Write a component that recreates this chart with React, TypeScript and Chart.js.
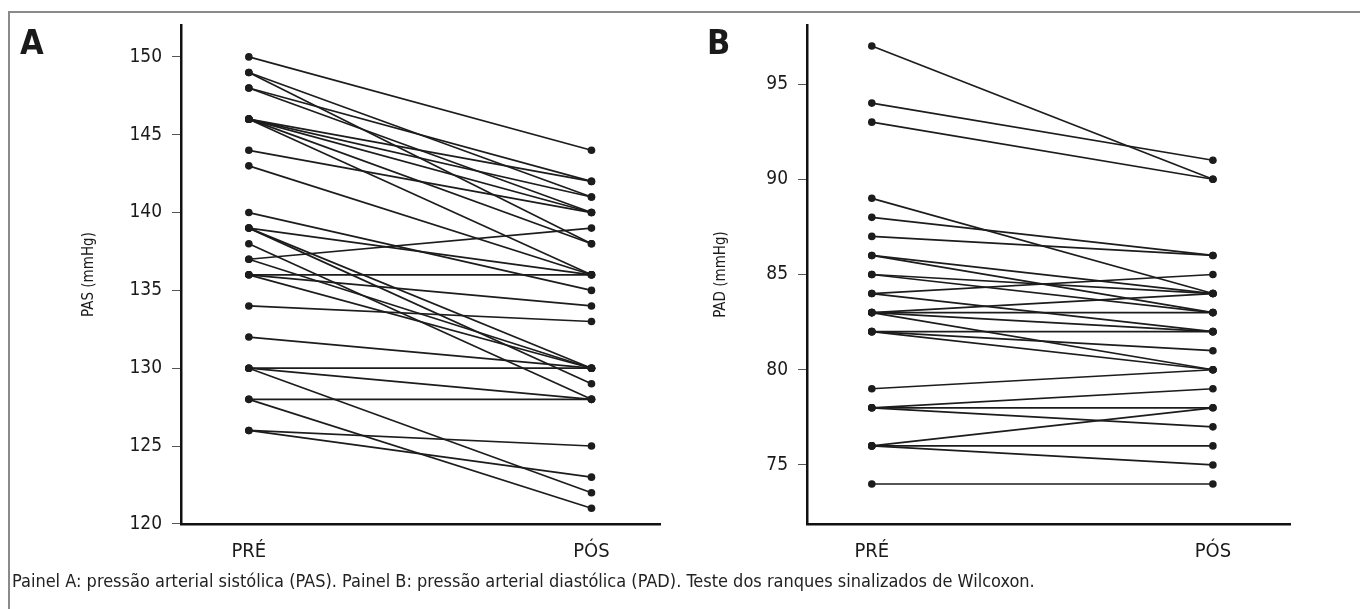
import React, { useEffect, useRef } from "react";
import { Chart, registerables } from "chart.js";

Chart.register(...registerables);

// Panel A: PAS (mmHg), each index is one subject (pre -> post)
const pasPre = [150, 149, 149, 148, 148, 146, 146, 146, 146, 146, 144, 143, 140, 139, 139, 139, 138, 137, 137, 136, 136, 136, 134, 132, 130, 130, 130, 128, 128, 126, 126];
const pasPost = [144, 141, 138, 142, 140, 142, 141, 140, 136, 138, 140, 136, 135, 136, 130, 129, 128, 139, 130, 136, 134, 130, 133, 130, 130, 128, 122, 128, 121, 125, 123];

// Panel B: PAD (mmHg)
const padPre = [97, 94, 93, 89, 88, 87, 86, 86, 85, 85, 84, 84, 83, 83, 83, 83, 82, 82, 82, 79, 78, 78, 78, 76, 76, 76, 74];
const padPost = [90, 91, 90, 84, 86, 86, 84, 83, 83, 84, 85, 82, 84, 83, 82, 80, 82, 81, 80, 80, 79, 78, 77, 78, 76, 75, 74];

const xLabels = ["PRÉ", "PÓS"];
const pasTicks = [120, 125, 130, 135, 140, 145, 150];
const padTicks = [75, 80, 85, 90, 95];

const FONT = "'DejaVu Sans Condensed', 'Liberation Sans Narrow', 'Liberation Sans', sans-serif";

type PanelProps = {
  pre: number[];
  post: number[];
  ticks: number[];
  yMin: number;
  yMax: number;
  xMin: number;
  xMax: number;
  yTitle: string;
  yAxisWidth: number;
  titlePad: number;
  width: number;
  height: number;
  padTop: number;
  padRight: number;
};

function Panel(p: PanelProps) {
  const ref = useRef<HTMLCanvasElement | null>(null);
  useEffect(() => {
    if (!ref.current) return;
    const datasets = p.pre.map((v, i) => ({
      data: [
        { x: 0, y: v },
        { x: 1, y: p.post[i] },
      ],
      borderColor: "#1c1c1c",
      backgroundColor: "#1c1c1c",
      borderWidth: 1.7,
      pointRadius: 3.8,
      pointBorderWidth: 0,
      pointBackgroundColor: "#1c1c1c",
      showLine: true,
      fill: false,
    }));
    const chart = new Chart(ref.current, {
      type: "scatter",
      data: { datasets },
      options: {
        animation: false,
        responsive: false,
        maintainAspectRatio: false,
        layout: { padding: { left: 0, top: p.padTop, right: p.padRight, bottom: 0 } },
        plugins: { legend: { display: false }, tooltip: { enabled: false } },
        scales: {
          x: {
            type: "linear",
            min: p.xMin,
            max: p.xMax,
            afterBuildTicks: (s: any) => {
              s.ticks = [{ value: 0 }, { value: 1 }];
            },
            afterFit: (s: any) => {
              s.height = 50;
              s.paddingLeft = 0;
              s.paddingRight = 0;
            },
            ticks: {
              autoSkip: false,
              maxRotation: 0,
              padding: 16,
              color: "#1a1a1a",
              font: { family: FONT, size: 20 },
              callback: (v: any) => xLabels[Number(v)] ?? "",
            },
            grid: { display: false, drawTicks: false },
            border: { display: true, color: "#111", width: 2.5 },
          },
          y: {
            type: "linear",
            min: p.yMin,
            max: p.yMax,
            afterBuildTicks: (s: any) => {
              s.ticks = p.ticks.map((v) => ({ value: v }));
            },
            afterFit: (s: any) => {
              s.width = p.yAxisWidth;
              s.paddingTop = 0;
              s.paddingBottom = 0;
            },
            ticks: {
              padding: 10,
              color: "#1a1a1a",
              font: { family: FONT, size: 19 },
            },
            grid: {
              display: true,
              drawOnChartArea: false,
              drawTicks: true,
              tickLength: 9,
              color: "#555",
              lineWidth: 1,
            },
            border: { display: true, color: "#111", width: 2.5 },
            title: {
              display: true,
              text: p.yTitle,
              color: "#1a1a1a",
              font: { family: FONT, size: 15 },
              padding: { top: p.titlePad, bottom: 0 },
            },
          },
        },
      },
    } as any);
    return () => chart.destroy();
  }, []);
  return <canvas ref={ref} width={p.width} height={p.height} style={{ width: p.width, height: p.height, display: "block" }} />;
}

export default function App() {
  return (
    <div style={{ position: "absolute", left: 0, top: 0, width: 1360, height: 609, background: "#fff", overflow: "hidden", fontFamily: FONT }}>
      <div style={{ position: "absolute", left: 8, top: 11, width: 1400, height: 700, borderTop: "2px solid #8a8a8a", borderLeft: "2px solid #8a8a8a" }} />
      <div style={{ position: "absolute", left: 20, top: 14 }}>
        <Panel pre={pasPre} post={pasPost} ticks={pasTicks} yMin={119.99} yMax={152.05} xMin={-0.198} xMax={1.2} yTitle="PAS (mmHg)" yAxisWidth={161} titlePad={60} width={660} height={560} padTop={11} padRight={20} />
      </div>
      <div style={{ position: "absolute", left: 690, top: 14 }}>
        <Panel pre={padPre} post={padPost} ticks={padTicks} yMin={71.9} yMax={98.1} xMin={-0.19} xMax={1.226} yTitle="PAD (mmHg)" yAxisWidth={117} titlePad={22} width={620} height={560} padTop={11} padRight={20} />
      </div>
      <div style={{ position: "absolute", left: 20, top: 25, fontSize: 34, fontWeight: "bold", color: "#1a1a1a", lineHeight: "34px" }}>A</div>
      <div style={{ position: "absolute", left: 707, top: 25, fontSize: 34, fontWeight: "bold", color: "#1a1a1a", lineHeight: "34px" }}>B</div>
      <div style={{ position: "absolute", left: 12, top: 570, fontSize: 18, color: "#222", lineHeight: "22px", whiteSpace: "nowrap" }}>
        Painel A: pressão arterial sistólica (PAS). Painel B: pressão arterial diastólica (PAD). Teste dos ranques sinalizados de Wilcoxon.
      </div>
    </div>
  );
}
